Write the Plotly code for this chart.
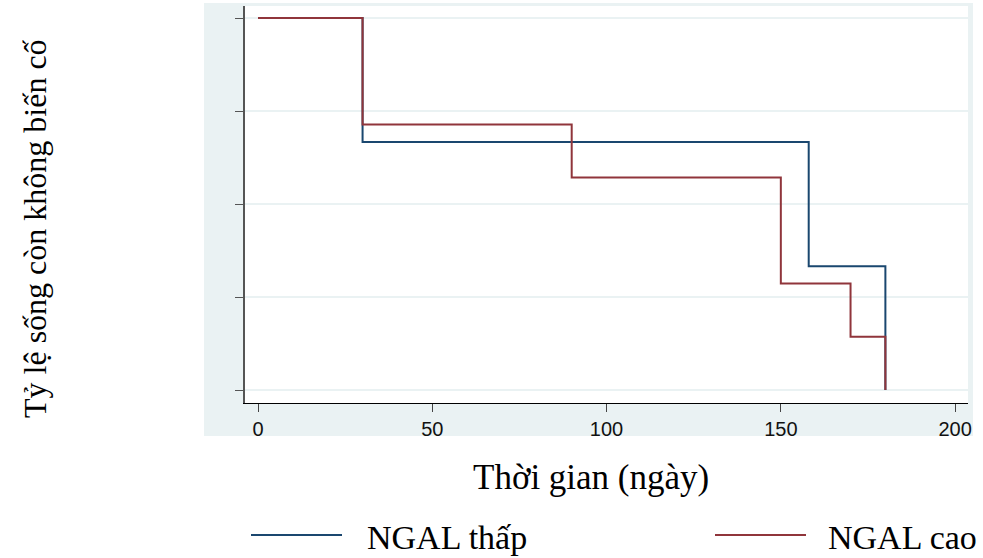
import plotly.graph_objects as go

# Kaplan-Meier step data: time (days) and event-free survival proportion
low_time = [0, 30, 158, 180]
low_surv = [1.0, 0.667, 0.333, 0.0]
high_time = [0, 30, 90, 150, 170, 180]
high_surv = [1.0, 0.714, 0.571, 0.286, 0.143, 0.0]

series_names = ["NGAL thấp", "NGAL cao"]
x_ticks = [0, 50, 100, 150, 200]
y_ticks = [0, 0.25, 0.5, 0.75, 1.0]

x_title = "Thời gian (ngày)"
y_title = "Tỷ lệ sống còn không biến cố"

BLUE = "#1a476f"
RED = "#90353b"
BG = "#eaf2f3"
SERIF = "Liberation Serif, Times New Roman, serif"
SANS = "Liberation Sans, Arial, sans-serif"

W, H = 983, 558
L, R, T, B = 245, 15, 6, 155
pw, ph = W - L - R, H - T - B


def px(xp):
    return (xp - L) / pw


def py(yp):
    return (H - B - yp) / ph


fig = go.Figure()
fig.add_trace(go.Scatter(x=low_time, y=low_surv, mode="lines", line_shape="hv",
                         line=dict(color=BLUE, width=2), name=series_names[0],
                         showlegend=False))
fig.add_trace(go.Scatter(x=high_time, y=high_surv, mode="lines", line_shape="hv",
                         line=dict(color=RED, width=2), name=series_names[1],
                         showlegend=False))

# outer shaded graph region framing the white plot area
shapes = []
for x0, x1, y0, y1 in [(204, L, 3, 436), (L + pw, 973, 3, 436),
                       (L, L + pw, 3, T), (L, L + pw, T + ph, 436)]:
    shapes.append(dict(type="rect", xref="paper", yref="paper",
                       x0=px(x0), x1=px(x1), y0=py(y1), y1=py(y0),
                       fillcolor=BG, line=dict(width=0), layer="below"))

# legend keys
for (x0, x1), c in [((251, 342), BLUE), ((715, 806), RED)]:
    shapes.append(dict(type="line", xref="paper", yref="paper",
                       x0=px(x0), x1=px(x1), y0=py(535), y1=py(535),
                       line=dict(color=c, width=2)))

annotations = [
    dict(text=x_title, xref="paper", yref="paper", x=px(591), y=py(477),
         xanchor="center", yanchor="middle", showarrow=False,
         font=dict(family=SERIF, size=35, color="black")),
    dict(text=y_title, xref="paper", yref="paper", x=px(35), y=py(228),
         xanchor="center", yanchor="middle", showarrow=False, textangle=-90,
         font=dict(family=SERIF, size=32, color="black")),
    dict(text=series_names[0], xref="paper", yref="paper", x=px(365), y=py(537),
         xanchor="left", yanchor="middle", showarrow=False,
         font=dict(family=SERIF, size=34, color="black")),
    dict(text=series_names[1], xref="paper", yref="paper", x=px(826), y=py(537),
         xanchor="left", yanchor="middle", showarrow=False,
         font=dict(family=SERIF, size=34, color="black")),
]

fig.update_layout(
    width=W, height=H,
    margin=dict(l=L, r=R, t=T, b=B),
    paper_bgcolor="white", plot_bgcolor="white",
    shapes=shapes, annotations=annotations,
    showlegend=False,
)
fig.update_xaxes(range=[-3.73, 203.7], tickvals=x_ticks, ticks="outside",
                 ticklen=8, tickcolor="#444", showgrid=False, zeroline=False,
                 showline=True, linecolor="black", linewidth=1,
                 tickfont=dict(family=SANS, size=20, color="#111"))
fig.update_yaxes(range=[-0.0349, 1.0323], tickvals=y_ticks, ticks="outside",
                 ticklen=8, tickcolor="#555", showticklabels=False,
                 showgrid=True, gridcolor=BG, gridwidth=1.5, zeroline=False,
                 showline=True, linecolor="#555", linewidth=1.5)

fig.write_html("out.html")
